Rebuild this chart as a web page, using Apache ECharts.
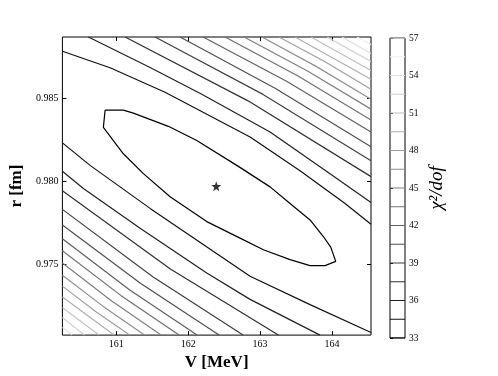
<!DOCTYPE html>
<html><head><meta charset="utf-8">
<script src="https://cdn.jsdelivr.net/npm/echarts@6/dist/echarts.min.js"></script>
<style>html,body{margin:0;padding:0;background:#fff}#c{width:498px;height:376px}</style>
</head><body><div id="c"></div>
<script>
// axis ranges and ticks
const vRange = [160.25, 164.543];
const rRange = [0.9707, 0.98872];
const vTicks = [161, 162, 163, 164];
const rTicks = [0.975, 0.980, 0.985];
const cbTicks = [33, 36, 39, 42, 45, 48, 51, 54, 57];
const levels = [33, 34.5, 36, 37.5, 39, 40.5, 42, 43.5, 45, 46.5, 48, 49.5, 51, 52.5, 54, 55.5, 57];
const bestFit = [162.39, 0.9797];

// contour lines [V, r]
const c33 = [[160.844,0.98430],[161.098,0.98430],[161.237,0.98412],[161.724,0.98332],[162.119,0.98246],[162.676,0.98096],[163.139,0.97966],[163.417,0.97866],[163.695,0.97766],[163.880,0.97666],[163.983,0.97602],[164.052,0.97516],[163.904,0.97490],[163.695,0.97490],[163.417,0.97526],[163.046,0.97586],[162.721,0.97656],[162.258,0.97756],[161.748,0.97906],[161.377,0.98046],[161.098,0.98166],[160.959,0.98246],[160.820,0.98326],[160.844,0.98430]];
const lo34_5 = [[160.25,0.98232],[160.635,0.98096],[161.470,0.97836],[162.861,0.97426],[163.695,0.97254],[164.543,0.97086]];
const hi34_5 = [[160.25,0.98786],[160.913,0.98686],[161.678,0.98538],[162.861,0.98268],[163.556,0.98064],[164.182,0.97866],[164.543,0.97740]];
const lo36 = [[160.25,0.98060],[160.542,0.97956],[161.331,0.97716],[162.258,0.97446],[162.861,0.97286],[163.834,0.9707]];
const hi36 = [[160.612,0.98872],[161.470,0.98688],[162.189,0.98526],[163.139,0.98298],[163.973,0.98046],[164.543,0.97872]];
const lo37_5 = [[160.25,0.97942],[161.752,0.97470],[163.254,0.9707]];
const hi37_5 = [[161.122,0.98872],[162.833,0.98486],[164.543,0.98028]];
const lo39 = [[160.25,0.97830],[161.507,0.97423],[162.763,0.9707]];
const hi39 = [[161.539,0.98872],[163.041,0.98525],[164.543,0.98124]];
const lo40_5 = [[160.25,0.97736],[161.340,0.97382],[162.429,0.9707]];
const hi40_5 = [[161.887,0.98872],[163.215,0.98561],[164.543,0.98208]];
const lo42 = [[160.25,0.97652],[161.187,0.97343],[162.123,0.9707]];
const hi42 = [[162.207,0.98872],[163.375,0.98603],[164.543,0.98298]];
const lo43_5 = [[160.25,0.97580],[161.062,0.97310],[161.873,0.9707]];
const hi43_5 = [[162.513,0.98872],[163.528,0.98636],[164.543,0.98370]];
const lo45 = [[160.25,0.97506],[160.936,0.97276],[161.623,0.9707]];
const hi45 = [[162.777,0.98872],[163.660,0.98666],[164.543,0.98436]];
const lo46_5 = [[160.25,0.97432],[160.822,0.97242],[161.393,0.9707]];
const hi46_5 = [[163.027,0.98872],[163.785,0.98693],[164.543,0.98496]];
const lo48 = [[160.25,0.97366],[160.717,0.97211],[161.185,0.9707]];
const hi48 = [[163.264,0.98872],[163.904,0.98722],[164.543,0.98556]];
const lo49_5 = [[160.25,0.97300],[160.969,0.9707]];
const hi49_5 = [[163.486,0.98872],[164.543,0.98616]];
const lo51 = [[160.25,0.97236],[160.760,0.9707]];
const hi51 = [[163.709,0.98872],[164.543,0.98670]];
const lo52_5 = [[160.25,0.97176],[160.559,0.9707]];
const hi52_5 = [[163.931,0.98872],[164.543,0.98724]];
const lo54 = [[160.25,0.97116],[160.385,0.9707]];
const hi54 = [[164.140,0.98872],[164.543,0.98772]];
const hi55_5 = [[164.349,0.98872],[164.543,0.98826]];

const contours = [
  [33, c33], [34.5, lo34_5], [34.5, hi34_5], [36, lo36], [36, hi36],
  [37.5, lo37_5], [37.5, hi37_5], [39, lo39], [39, hi39], [40.5, lo40_5], [40.5, hi40_5],
  [42, lo42], [42, hi42], [43.5, lo43_5], [43.5, hi43_5], [45, lo45], [45, hi45],
  [46.5, lo46_5], [46.5, hi46_5], [48, lo48], [48, hi48], [49.5, lo49_5], [49.5, hi49_5],
  [51, lo51], [51, hi51], [52.5, lo52_5], [52.5, hi52_5], [54, lo54], [54, hi54], [55.5, hi55_5]
];

function grayOf(L) {
  const t = (L - levels[0]) / (levels[levels.length - 1] - levels[0]);
  const v = Math.round(255 * t);
  return 'rgb(' + v + ',' + v + ',' + v + ')';
}

const serif = 'Liberation Serif';
const series = [];
contours.forEach(([L, pts]) => {
  series.push({
    type: 'line', xAxisIndex: 0, yAxisIndex: 0, data: pts, showSymbol: false, silent: true,
    lineStyle: { color: grayOf(L), width: 1.2 }, clip: true, z: 2
  });
});
levels.forEach(L => {
  series.push({
    type: 'line', xAxisIndex: 2, yAxisIndex: 2, data: [[0, L], [1, L]], showSymbol: false, silent: true,
    lineStyle: { color: grayOf(L), width: 1.2 }, z: 2
  });
});
series.push({
  type: 'scatter', xAxisIndex: 0, yAxisIndex: 0, data: [bestFit], silent: true, z: 5,
  symbol: 'path://M0,-10 L2.35,-3.24 L9.51,-3.09 L3.8,1.24 L5.88,8.09 L0,4 L-5.88,8.09 L-3.8,1.24 L-9.51,-3.09 L-2.35,-3.24 Z',
  symbolSize: 10, itemStyle: { color: '#000' }
});

const tickStyle = { lineStyle: { color: '#000', width: 1 } };
const option = {
  animation: false,
  backgroundColor: '#fff',
  grid: [
    { left: 62, top: 37, width: 309, height: 301, show: true, borderColor: '#000', borderWidth: 1, backgroundColor: 'transparent' },
    { left: 390, top: 38, width: 15, height: 300, show: true, borderColor: '#000', borderWidth: 1, backgroundColor: 'transparent' }
  ],
  xAxis: [
    { gridIndex: 0, type: 'value', min: vRange[0], max: vRange[1], position: 'bottom',
      axisLine: { show: false }, splitLine: { show: false },
      axisTick: Object.assign({ show: true, inside: true, length: 4, customValues: vTicks }, tickStyle),
      axisLabel: { customValues: vTicks, fontSize: 10, fontFamily: serif, color: '#000', margin: 4 },
      name: 'V [MeV]', nameLocation: 'middle', nameGap: 14,
      nameTextStyle: { fontSize: 17, fontWeight: 'bold', fontFamily: serif, color: '#000' } },
    { gridIndex: 0, type: 'value', min: vRange[0], max: vRange[1], position: 'top',
      axisLine: { show: false }, splitLine: { show: false },
      axisTick: Object.assign({ show: true, inside: true, length: 4, customValues: vTicks }, tickStyle),
      axisLabel: { show: false } },
    { gridIndex: 1, type: 'value', min: 0, max: 1, show: false }
  ],
  yAxis: [
    { gridIndex: 0, type: 'value', min: rRange[0], max: rRange[1], position: 'left',
      axisLine: { show: false }, splitLine: { show: false },
      axisTick: Object.assign({ show: true, inside: true, length: 4, customValues: rTicks }, tickStyle),
      axisLabel: { customValues: rTicks, fontSize: 10, fontFamily: serif, color: '#000', margin: 4,
        formatter: v => v.toFixed(3) },
      name: 'r [fm]', nameLocation: 'middle', nameGap: 29,
      nameTextStyle: { fontSize: 17, fontWeight: 'bold', fontFamily: serif, color: '#000' } },
    { gridIndex: 0, type: 'value', min: rRange[0], max: rRange[1], position: 'right',
      axisLine: { show: false }, splitLine: { show: false },
      axisTick: Object.assign({ show: true, inside: true, length: 4, customValues: rTicks }, tickStyle),
      axisLabel: { show: false } },
    { gridIndex: 1, type: 'value', min: cbTicks[0], max: cbTicks[cbTicks.length - 1], interval: 3, position: 'right',
      axisLine: { show: false }, splitLine: { show: false },
      axisTick: Object.assign({ show: true, inside: false, length: 3 }, tickStyle),
      axisLabel: { fontSize: 9.5, fontFamily: serif, color: '#000', margin: 4 },
      name: 'χ²/dof', nameLocation: 'middle', nameGap: 22,
      nameTextStyle: { fontSize: 19, fontStyle: 'italic', fontFamily: serif, color: '#000' } }
  ],
  series: series
};
echarts.init(document.getElementById('c'), null, { renderer: 'canvas' }).setOption(option);
</script></body></html>
